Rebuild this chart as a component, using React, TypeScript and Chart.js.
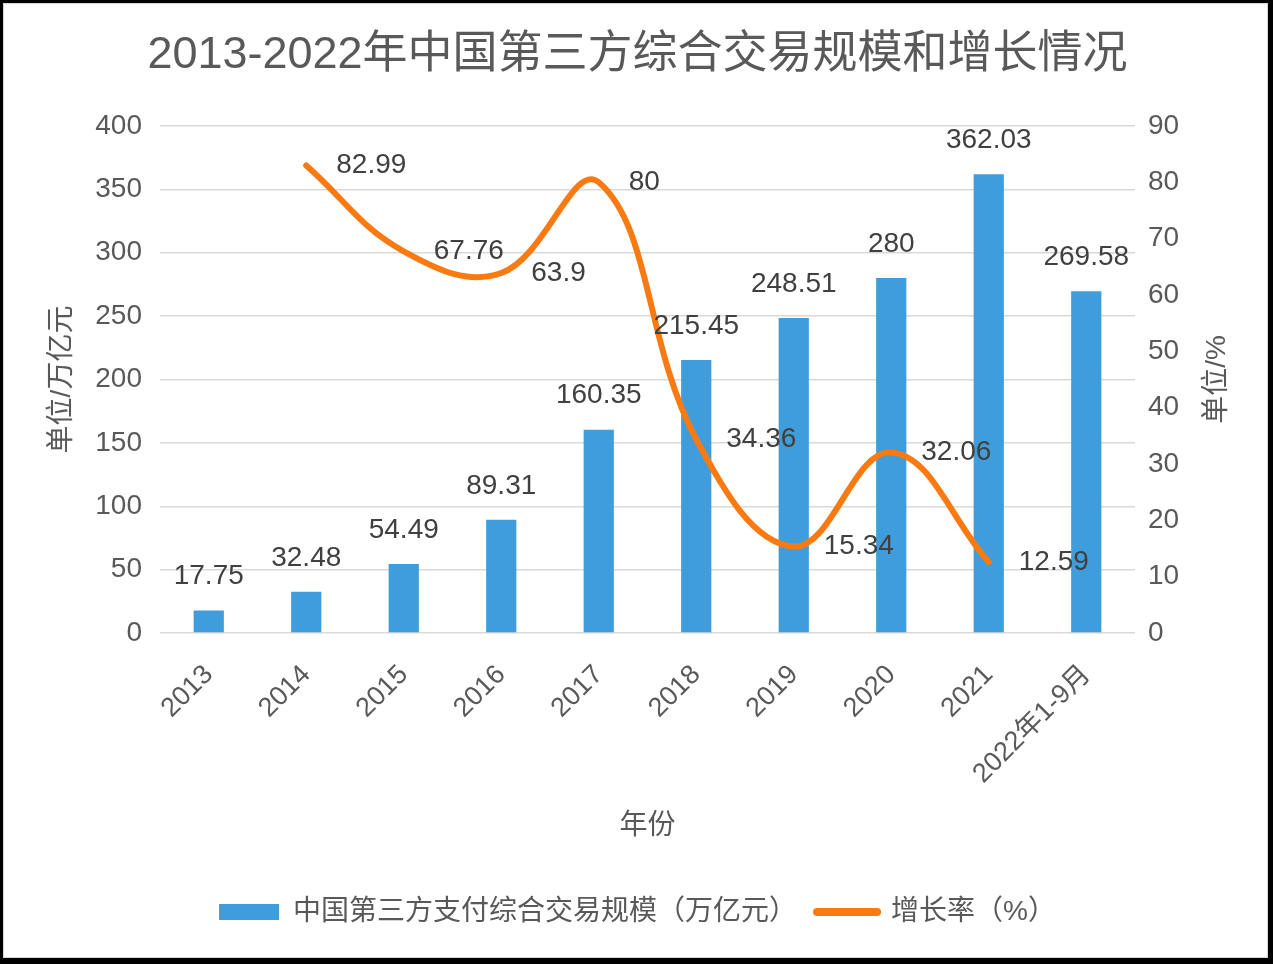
import React, { useEffect, useRef } from 'react';
import { Chart, registerables } from 'chart.js';

Chart.register(...registerables);

const FONT = "'Liberation Sans', 'Noto Sans CJK SC', Arial, sans-serif";
const TEXT = '#595959';
const LABEL = '#404040';
const BLUE = '#3F9DDB';
const ORANGE = '#FA7A12';
const GRID = '#D9D9D9';

const TITLE = '2013-2022年中国第三方综合交易规模和增长情况';
const categories = ['2013', '2014', '2015', '2016', '2017', '2018', '2019', '2020', '2021', '2022年1-9月'];
const scaleValues = [17.75, 32.48, 54.49, 89.31, 160.35, 215.45, 248.51, 280, 362.03, 269.58];
const growthValues: (number | null)[] = [null, 82.99, 67.76, 63.9, 80, 34.36, 15.34, 32.06, 12.59, null];
const seriesNames = ['中国第三方支付综合交易规模（万亿元）', '增长率（%）'];
const leftAxis = { min: 0, max: 400, step: 50, title: '单位/万亿元' };
const rightAxis = { min: 0, max: 90, step: 10, title: '单位/%' };
const xTitle = '年份';

const labelPlugin = {
  id: 'valueLabels',
  afterDatasetsDraw(chart: any) {
    const ctx = chart.ctx;
    ctx.save();
    ctx.font = `28px ${FONT}`;
    ctx.fillStyle = LABEL;
    ctx.textBaseline = 'middle';
    ctx.textAlign = 'center';
    const barMeta = chart.getDatasetMeta(0);
    barMeta.data.forEach((el: any, i: number) => {
      ctx.fillText(String(scaleValues[i]), el.x, el.y - 34);
    });
    const lineMeta = chart.getDatasetMeta(1);
    ctx.textAlign = 'left';
    lineMeta.data.forEach((el: any, i: number) => {
      const v = growthValues[i];
      if (v == null) return;
      ctx.fillText(String(v), el.x + 30, el.y);
    });
    const y1 = chart.scales.y1;
    ctx.translate(y1.right - 28, (chart.chartArea.top + chart.chartArea.bottom) / 2);
    ctx.rotate(-Math.PI / 2);
    ctx.font = `28px ${FONT}`;
    ctx.fillStyle = TEXT;
    ctx.textAlign = 'center';
    ctx.fillText(rightAxis.title, 0, 0);
    ctx.restore();
  },
};

export default function App() {
  const canvasRef = useRef<HTMLCanvasElement | null>(null);

  useEffect(() => {
    document.body.style.margin = '0';
    const canvas = canvasRef.current;
    if (!canvas) return;
    Chart.defaults.font.family = FONT;
    const chart = new Chart(canvas, {
      type: 'bar',
      data: {
        labels: categories,
        datasets: [
          {
            type: 'bar',
            label: seriesNames[0],
            data: scaleValues,
            backgroundColor: BLUE,
            borderWidth: 0,
            barPercentage: 0.31,
            categoryPercentage: 1,
            yAxisID: 'y',
            order: 1,
          } as any,
          {
            type: 'line',
            label: seriesNames[1],
            data: growthValues,
            borderColor: ORANGE,
            backgroundColor: ORANGE,
            borderWidth: 6,
            borderCapStyle: 'round',
            borderJoinStyle: 'round',
            pointRadius: 0,
            tension: 0.4,
            fill: false,
            yAxisID: 'y1',
            order: 0,
          } as any,
        ],
      },
      options: {
        responsive: true,
        maintainAspectRatio: false,
        animation: false,
        events: [],
        layout: { padding: { left: 30, right: 28, top: 0, bottom: 28 } },
        plugins: {
          title: {
            display: true,
            text: TITLE,
            color: TEXT,
            font: { size: 45, weight: 'normal', family: FONT },
            padding: { top: 29, bottom: 43 },
          },
          legend: {
            position: 'bottom',
            labels: {
              usePointStyle: true,
              pointStyleWidth: 60,
              boxHeight: 16,
              padding: 20,
              color: TEXT,
              font: { size: 28, family: FONT },
              sort: (a: any, b: any) => a.datasetIndex - b.datasetIndex,
              generateLabels: (chart: any) => {
                const items = (Chart.defaults.plugins.legend.labels as any).generateLabels(chart);
                items.forEach((it: any) => {
                  if (it.datasetIndex === 0) {
                    it.pointStyle = 'rect';
                    it.lineWidth = 0;
                    it.fillStyle = BLUE;
                    it.strokeStyle = BLUE;
                  } else {
                    it.pointStyle = 'line';
                    it.lineWidth = 8;
                    it.lineCap = 'round';
                    it.strokeStyle = ORANGE;
                  }
                });
                return items;
              },
            },
          },
          tooltip: { enabled: false },
        },
        scales: {
          x: {
            grid: { display: false, drawTicks: false },
            border: { display: false },
            ticks: {
              color: TEXT,
              font: { size: 27, family: FONT },
              minRotation: 45,
              maxRotation: 45,
              autoSkip: false,
              padding: 26,
            },
            title: {
              display: true,
              text: xTitle,
              color: TEXT,
              font: { size: 28, family: FONT },
              padding: { top: 0, bottom: 35 },
            },
            afterFit: (s: any) => {
              s.height = 245;
            },
          },
          y: {
            position: 'left',
            min: leftAxis.min,
            max: leftAxis.max,
            grid: { color: GRID, lineWidth: 1.5, drawTicks: false },
            border: { display: false },
            ticks: {
              stepSize: leftAxis.step,
              color: TEXT,
              font: { size: 28, family: FONT },
              padding: 18,
            },
            title: {
              display: true,
              text: leftAxis.title,
              color: TEXT,
              font: { size: 28, family: FONT },
              padding: { top: 15, bottom: 0 },
            },
            afterFit: (s: any) => {
              s.width = 130;
            },
          },
          y1: {
            position: 'right',
            min: rightAxis.min,
            max: rightAxis.max,
            grid: { display: false, drawTicks: false },
            border: { display: false },
            ticks: {
              stepSize: rightAxis.step,
              color: TEXT,
              font: { size: 28, family: FONT },
              padding: 13,
            },
            afterFit: (s: any) => {
              s.width = 110;
            },
          },
        },
      } as any,
      plugins: [labelPlugin],
    });
    return () => chart.destroy();
  }, []);

  return (
    <div style={{ position: 'fixed', left: 0, top: 0, width: 1273, height: 964, background: '#fff' }}>
      <canvas ref={canvasRef} />
      <div
        style={{
          position: 'absolute',
          left: 0,
          top: 0,
          width: 1273,
          height: 964,
          boxSizing: 'border-box',
          borderStyle: 'solid',
          borderColor: '#000',
          borderWidth: '3px 5px 6px 3px',
          pointerEvents: 'none',
        }}
      >
        <div style={{ width: '100%', height: '100%', boxSizing: 'border-box', border: '1px solid #D6D6D6' }} />
      </div>
    </div>
  );
}
